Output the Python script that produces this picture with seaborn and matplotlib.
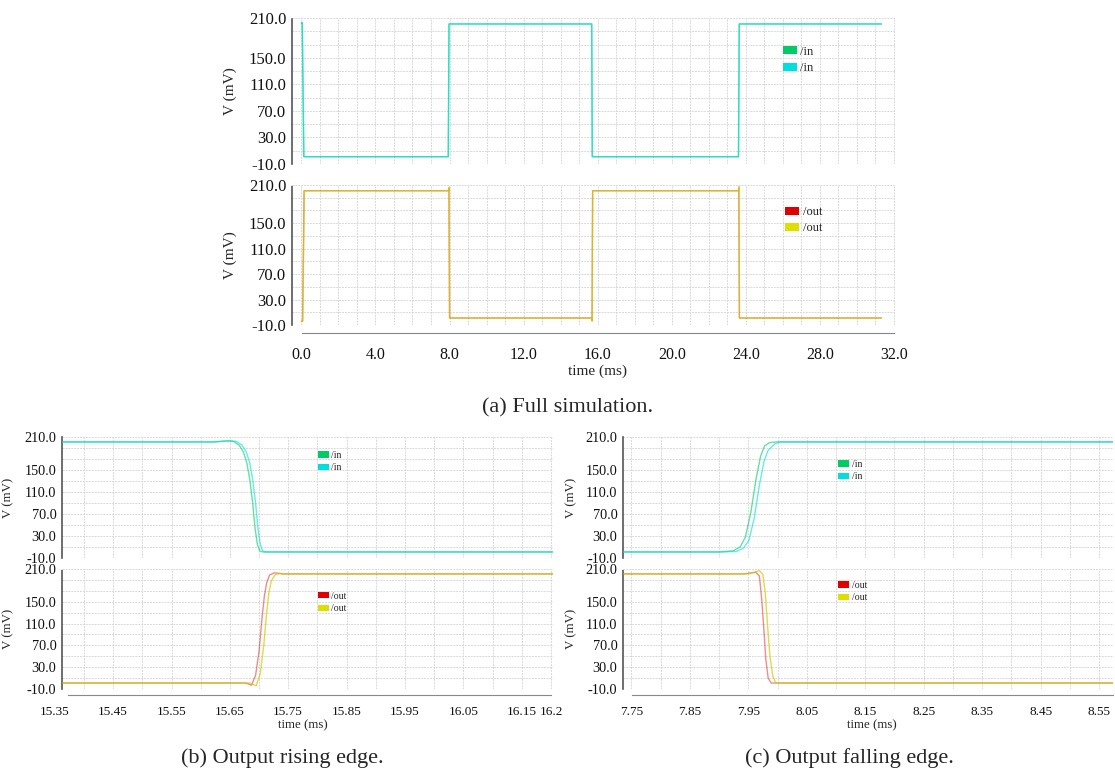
import matplotlib
matplotlib.use("Agg")
import matplotlib.pyplot as plt
import numpy as np
import seaborn as sns
from matplotlib.patches import Patch
from matplotlib.ticker import FixedLocator

W, H = 1115, 776

# ---------------- data (time in ms, voltage in mV) ----------------
# (a) full simulation
full_in_green_t = [0.0, 0.04, 0.12, 7.93, 7.97, 15.68, 15.71, 23.61, 23.65, 31.34]
full_in_green_v = [202, 203, 1, 1, 201, 201, 1, 1, 201, 201]
full_in_cyan_t = [0.0, 0.05, 0.14, 7.94, 7.98, 15.69, 15.72, 23.62, 23.66, 31.34]
full_in_cyan_v = [202, 203, 1, 1, 201, 201, 1, 1, 201, 201]
full_out_red_t = [0.0, 0.06, 0.14, 7.95, 7.97, 8.0, 15.69, 15.70, 15.73, 23.61, 23.63, 23.66, 31.34]
full_out_red_v = [-4, -4, 201, 201, 205, 1, 1, -3, 201, 201, 205, 1, 1]
full_out_yellow_t = [0.0, 0.07, 0.16, 7.96, 7.98, 8.01, 15.70, 15.71, 15.74, 23.62, 23.64, 23.67, 31.34]
full_out_yellow_v = [-4, -4, 201, 201, 207, 1, 1, -4, 201, 201, 208, 1, 1]

# (b) output rising edge
rise_in_green_t = [15.342, 15.62, 15.645, 15.656, 15.666, 15.673, 15.679, 15.684, 15.689, 15.693, 15.697, 15.701, 15.706, 16.204]
rise_in_green_v = [201, 201, 203, 202, 195, 183, 163, 133, 90, 45, 15, 3, 1, 1]
rise_in_cyan_t = [15.342, 15.625, 15.650, 15.661, 15.671, 15.678, 15.684, 15.689, 15.694, 15.698, 15.702, 15.706, 15.711, 16.204]
rise_in_cyan_v = [201, 201, 203, 202, 195, 183, 163, 133, 90, 45, 15, 3, 1, 1]
rise_out_red_t = [15.342, 15.677, 15.687, 15.694, 15.700, 15.705, 15.709, 15.713, 15.718, 15.726, 15.740, 16.204]
rise_out_red_v = [1, 1, -3, 15, 60, 120, 160, 185, 199, 203, 201, 201]
rise_out_yellow_t = [15.342, 15.684, 15.695, 15.702, 15.708, 15.713, 15.717, 15.721, 15.727, 15.735, 15.745, 16.204]
rise_out_yellow_v = [1, 1, -4, 18, 70, 130, 168, 188, 199, 202, 201, 201]

# (c) output falling edge
fall_in_green_t = [7.736, 7.900, 7.924, 7.936, 7.945, 7.954, 7.963, 7.971, 7.978, 7.987, 7.999, 8.574]
fall_in_green_v = [1, 1, 3, 10, 28, 71, 132, 175, 194, 200, 201, 201]
fall_in_cyan_t = [7.736, 7.905, 7.930, 7.942, 7.951, 7.960, 7.969, 7.977, 7.984, 7.996, 8.005, 8.574]
fall_in_cyan_v = [1, 1, 2, 8, 22, 62, 123, 166, 186, 198, 201, 201]
fall_out_red_t = [7.736, 7.942, 7.963, 7.969, 7.973, 7.977, 7.980, 7.984, 7.989, 8.574]
fall_out_red_v = [201, 201, 204, 197, 154, 93, 44, 10, 1, 1]
fall_out_yellow_t = [7.736, 7.950, 7.969, 7.975, 7.979, 7.983, 7.987, 7.992, 7.997, 8.574]
fall_out_yellow_v = [201, 201, 207, 200, 166, 105, 50, 13, 1, 1]

# axis ticks
y_ticks = [-10, 30, 70, 110, 150, 210]
y_labels = ["-10.0", "30.0", "70.0", "110.0", "150.0", "210.0"]
y_grid = [10, 50, 90, 130, 170, 190]

full_xticks = [0, 4, 8, 12, 16, 20, 24, 28, 32]
full_xlabels = ["0.0", "4.0", "8.0", "12.0", "16.0", "20.0", "24.0", "28.0", "32.0"]
rise_xticks = [15.35, 15.45, 15.55, 15.65, 15.75, 15.85, 15.95, 16.05, 16.15, 16.2]
rise_xlabels = ["15.35", "15.45", "15.55", "15.65", "15.75", "15.85", "15.95", "16.05", "16.15", "16.2"]
fall_xticks = [7.75, 7.85, 7.95, 8.05, 8.15, 8.25, 8.35, 8.45, 8.55]
fall_xlabels = ["7.75", "7.85", "7.95", "8.05", "8.15", "8.25", "8.35", "8.45", "8.55"]

# trace colours (legend swatch) and line transparency
GREEN, CYAN, RED, YELLOW = "#00cc66", "#00dede", "#e00000", "#dede00"
LINE_COLOR = {GREEN: "#00cc66", CYAN: "#00dede", RED: "#e00000", YELLOW: "#cccc00"}
LINE_ALPHA = {GREEN: 0.6, CYAN: 0.6, RED: 0.45, YELLOW: 0.7}

sns.set_theme(style="white")
plt.rcParams["font.family"] = ["Liberation Serif", "DejaVu Serif"]

fig = plt.figure(figsize=(W / 100, H / 100), dpi=100)


def px_rect(l, t, r, b):
    return [l / W, 1 - b / H, (r - l) / W, (b - t) / H]


def wave_panel(box, xlim, xgrid, traces, names, leg_xy, fs, leg_fs, ylab_x):
    ax = fig.add_axes(px_rect(*box))
    for (t, v, c) in traces:
        sns.lineplot(x=t, y=v, ax=ax, color=LINE_COLOR[c], lw=1.0, alpha=LINE_ALPHA[c],
                     estimator=None, sort=False, legend=False, zorder=3)
    # ticks first: set_ticks widens the view limits, so limits go last
    ax.set_xticks(xgrid)
    ax.set_xticklabels([])
    ax.set_yticks(y_ticks)
    ax.set_yticklabels(y_labels, fontsize=fs)
    ax.set_yticks(y_grid, minor=True)
    ax.set_xlim(*xlim)
    ax.set_ylim(-10, 210)
    ax.tick_params(axis="both", which="both", length=0, pad=4, colors="#111111")
    ax.grid(True, which="both", color="#d9d9d9", lw=0.7, ls=(0, (2, 1)))
    ax.set_axisbelow(True)
    for s in ["top", "right", "bottom"]:
        ax.spines[s].set_visible(False)
    ax.spines["left"].set_color("#555555")
    ax.spines["left"].set_linestyle((0, (1, 1)))
    ax.spines["left"].set_linewidth(1.2)
    ax.set_ylabel("V (mV)", fontsize=fs - 1)
    ax.yaxis.set_label_coords(ylab_x, 0.5)
    handles = [Patch(facecolor=tr[2], edgecolor="none", label=n) for tr, n in zip(traces, names)]
    ax.legend(handles=handles, loc="upper left", bbox_to_anchor=leg_xy, frameon=False,
              fontsize=leg_fs, handlelength=1.1, handleheight=0.6, handletextpad=0.3,
              labelspacing=0.35, borderpad=0, borderaxespad=0)
    ax.set_xlabel("")
    return ax


def ruler(l, r, y, xlim, bounds, ticks, labels, minor, fs, pad, xlab_fs, labelpad):
    ax = fig.add_axes([l / W, 1 - y / H, (r - l) / W, 0.0001])
    ax.patch.set_visible(False)
    for s in ["top", "right", "left"]:
        ax.spines[s].set_visible(False)
    ax.set_yticks([])
    ax.set_xticks(ticks)
    ax.set_xticklabels(labels, fontsize=fs)
    ax.xaxis.set_minor_locator(FixedLocator(minor))
    ax.set_xlim(*xlim)
    ax.spines["bottom"].set_color("#888888")
    ax.spines["bottom"].set_linewidth(0.8)
    ax.spines["bottom"].set_bounds(*bounds)
    ax.tick_params(axis="x", which="major", length=0, pad=pad, colors="#111111")
    ax.tick_params(axis="x", which="minor", direction="in", length=2.2, width=0.6, color="#888888")
    ax.set_xlabel("time (ms)", fontsize=xlab_fs, labelpad=labelpad)
    return ax


# (a) full simulation
wave_panel((292, 18, 895, 164), (-0.51, 32.07), np.arange(0, 32.5, 1),
           [(full_in_green_t, full_in_green_v, GREEN), (full_in_cyan_t, full_in_cyan_v, CYAN)],
           ["/in", "/in"], (0.814, 0.81), 12, 9, -0.091)
wave_panel((292, 185, 895, 325), (-0.51, 32.07), np.arange(0, 32.5, 1),
           [(full_out_red_t, full_out_red_v, RED), (full_out_yellow_t, full_out_yellow_v, YELLOW)],
           ["/out", "/out"], (0.818, 0.85), 12, 9, -0.091)
ruler(301.7, 893.7, 333, (0, 32), (0, 32), full_xticks, full_xlabels,
      np.arange(0, 32.01, 0.2), 11.5, 10, 11, 1)

# (b) output rising edge
wave_panel((62, 437, 553, 558), (15.3623, 16.2036), np.arange(15.35, 16.22, 0.05),
           [(rise_in_green_t, rise_in_green_v, GREEN), (rise_in_cyan_t, rise_in_cyan_v, CYAN)],
           ["/in", "/in"], (0.521, 0.885), 10.3, 7, -0.098)
wave_panel((62, 569, 553, 689), (15.3623, 16.2036), np.arange(15.35, 16.22, 0.05),
           [(rise_out_red_t, rise_out_red_v, RED), (rise_out_yellow_t, rise_out_yellow_v, YELLOW)],
           ["/out", "/out"], (0.521, 0.81), 10.3, 7, -0.098)
ruler(54.5, 551, 695, (15.35, 16.2), (15.373, 16.2), rise_xticks, rise_xlabels,
      np.arange(15.375, 16.2005, 0.005), 9.5, 8, 9.3, 1)

# (c) output falling edge
wave_panel((623, 437, 1113, 558), (7.7356, 8.574), np.arange(7.75, 8.58, 0.05),
           [(fall_in_green_t, fall_in_green_v, GREEN), (fall_in_cyan_t, fall_in_cyan_v, CYAN)],
           ["/in", "/in"], (0.439, 0.81), 10.3, 7, -0.094)
wave_panel((623, 569, 1113, 689), (7.7356, 8.574), np.arange(7.75, 8.58, 0.05),
           [(fall_out_red_t, fall_out_red_v, RED), (fall_out_yellow_t, fall_out_yellow_v, YELLOW)],
           ["/out", "/out"], (0.439, 0.9), 10.3, 7, -0.094)
ruler(631.7, 1113, 695, (7.75, 8.574), (7.75, 8.574), fall_xticks, fall_xlabels,
      np.arange(7.75, 8.574, 0.005), 9.5, 8, 9.3, 1)

# captions
fig.text(568 / W, 1 - 408 / H, "(a) Full simulation.", ha="center", va="center", fontsize=16)
fig.text(282 / W, 1 - 758 / H, "(b) Output rising edge.", ha="center", va="center", fontsize=16)
fig.text(849 / W, 1 - 758 / H, "(c) Output falling edge.", ha="center", va="center", fontsize=16)

fig.savefig("out.png", dpi=100)
